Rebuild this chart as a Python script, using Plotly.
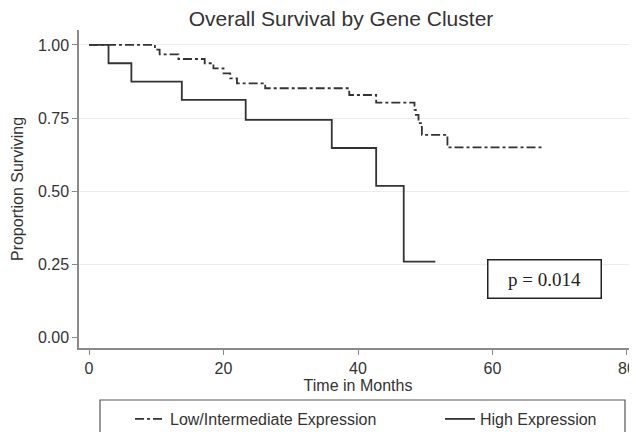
import plotly.graph_objects as go

# Kaplan-Meier step data
low_time = [0, 9.8, 10.5, 13.3, 17.2, 18.5, 20.0, 21.0, 22.0, 26.2, 38.7, 42.7, 48.4, 48.6, 49.0, 49.5, 53.3, 67.6]
low_surv = [1.0, 0.984, 0.968, 0.952, 0.9375, 0.920, 0.903, 0.886, 0.869, 0.852, 0.829, 0.803, 0.778, 0.761, 0.733, 0.693, 0.650, 0.650]
high_time = [0, 2.9, 6.3, 13.8, 23.3, 36.1, 42.7, 46.8, 51.5]
high_surv = [1.0, 0.9375, 0.875, 0.8125, 0.744, 0.648, 0.519, 0.26, 0.26]

x_ticks = [0, 20, 40, 60, 80]
y_ticks = [0.0, 0.25, 0.5, 0.75, 1.0]
y_tick_labels = ["0.00", "0.25", "0.50", "0.75", "1.00"]
grid_vals = [0.25, 0.5, 0.75, 1.0]

names = ["Low/Intermediate Expression", "High Expression"]
p_text = "p = 0.014"

# The page shows the figure with an 8px offset, so the figure is 8px smaller and
# every position below is the reference position minus 8px.
OFF = 8
W, H = 637 - OFF, 432 - OFF
ML, MR, MT, MB = 79 - OFF, 0, 30 - OFF, 84
PW, PH = W - ML - MR, H - MT - MB

FONT = "Liberation Sans, Arial, sans-serif"
LINE = "#333333"
AXIS = "#8a8a8a"


def px_x(p):  # reference pixel -> paper x
    return (p - OFF - ML) / PW


def px_y(p):  # reference pixel -> paper y
    return (H - MB - (p - OFF)) / PH


fig = go.Figure()
# invisible trace on grid axis (drawn first, beneath data)
fig.add_trace(go.Scatter(x=[None], y=[None], yaxis="y2", showlegend=False, hoverinfo="skip"))
fig.add_trace(go.Scatter(x=low_time, y=low_surv, mode="lines", line_shape="hv",
                         line=dict(color=LINE, width=1.8, dash="9px,3px,3px,3px"),
                         name=names[0], legend="legend"))
fig.add_trace(go.Scatter(x=high_time, y=high_surv, mode="lines", line_shape="hv",
                         line=dict(color=LINE, width=1.8),
                         name=names[1], legend="legend2"))

fig.add_annotation(x=67.8, y=0.199, xref="x", yref="y", text=p_text, showarrow=False,
                   font=dict(family="Liberation Serif, Times New Roman, serif", size=19, color="#222"),
                   bordercolor="#222", borderwidth=1.5, borderpad=2, width=108, height=33,
                   bgcolor="white")

# legend frame (partly cut off at the bottom, as in the reference)
fig.add_shape(type="rect", xref="paper", yref="paper",
              x0=px_x(100), x1=px_x(625), y0=px_y(450), y1=px_y(400),
              line=dict(color="#555", width=1.2), fillcolor="rgba(0,0,0,0)")

leg_common = dict(orientation="h", xref="container", yref="container", xanchor="left",
                  yanchor="middle", y=1 - (419 - OFF) / H, borderwidth=0, bgcolor="rgba(0,0,0,0)",
                  font=dict(family=FONT, size=16, color="#333"))

fig.update_layout(
    template="none",
    width=W, height=H,
    margin=dict(l=ML, r=MR, t=MT, b=MB),
    paper_bgcolor="white", plot_bgcolor="white",
    font=dict(family=FONT, size=16, color="#333"),
    title=dict(text="Overall Survival by Gene Cluster", x=(341 - OFF) / W, xanchor="center",
               y=1 - (19 - OFF) / H, yanchor="middle", yref="container",
               font=dict(family=FONT, size=21, color="#333")),
    xaxis=dict(range=[-1.49, 81.49], tickvals=x_ticks, showgrid=False, zeroline=False,
               automargin=False, ticklabeloverflow="allow",
               showline=True, linecolor=AXIS, linewidth=1.5,
               ticks="outside", ticklen=5, tickcolor=AXIS, tickwidth=1,
               tickfont=dict(size=16, color="#333"),
               title=dict(text="Time in Months", font=dict(size=16, color="#333"), standoff=4)),
    yaxis=dict(range=[-0.035, 1.051], tickvals=y_ticks, ticktext=y_tick_labels,
               showgrid=False, zeroline=False, automargin=False,
               showline=True, linecolor=AXIS, linewidth=1.5,
               ticks="outside", ticklen=5, tickcolor=AXIS, tickwidth=1,
               tickfont=dict(size=16, color="#333"),
               title=dict(text="Proportion Surviving", font=dict(size=16, color="#333"), standoff=10)),
    yaxis2=dict(range=[-0.035, 1.051], tickvals=grid_vals, overlaying="y", automargin=False,
                showticklabels=False, showgrid=True, gridcolor="#ececec", gridwidth=1,
                zeroline=False, showline=False, ticks=""),
    legend=dict(x=(130 - OFF) / W, **leg_common),
    legend2=dict(x=(440 - OFF) / W, **leg_common),
    showlegend=True,
)

fig.write_html("out.html", default_width=f"{W}px", default_height=f"{H}px",
               post_script="document.documentElement.style.overflow='hidden';"
                           "document.body.style.overflow='hidden';")
